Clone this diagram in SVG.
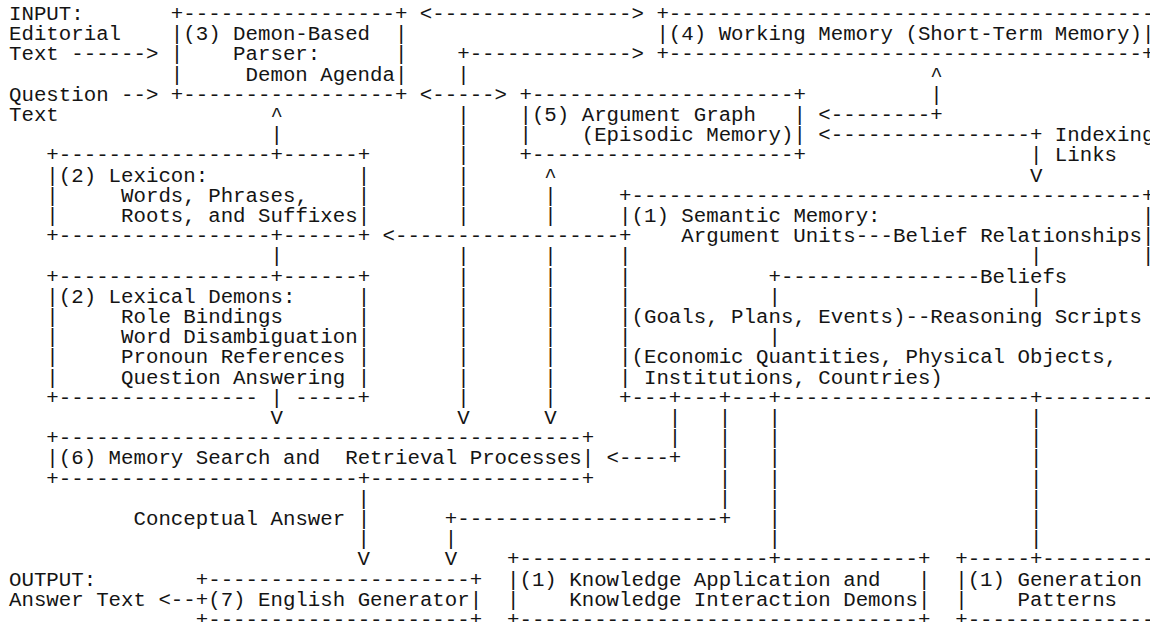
<svg xmlns="http://www.w3.org/2000/svg" width="1150" height="622" viewBox="0 0 1150 622" xml:space="preserve">
<style>
text { font-family: "Liberation Mono", "Courier New", "DejaVu Sans Mono", monospace; font-size: 20.75px; fill: #141414; white-space: pre; }
</style>
<rect width="1150" height="622" fill="#ffffff"/>
<g id="input-labels">
<text x="9" y="20">INPUT:</text>
<text x="9" y="40.2">Editorial</text>
<text x="9" y="60.4">Text</text>
<text x="9" y="100.8">Question</text>
<text x="9" y="121">Text</text>
</g>
<g id="output-labels">
<text x="9" y="585.6">OUTPUT:</text>
<text x="9" y="605.8">Answer Text</text>
</g>
<g id="node-parser">
<text x="170.85" y="20">+-----------------+</text>
<text x="170.85" y="40.2">|(3) Demon-Based  |</text>
<text x="170.85" y="60.4">|    Parser:      |</text>
<text x="170.85" y="80.6">|     Demon Agenda|</text>
<text x="170.85" y="100.8">+-----------------+</text>
</g>
<g id="node-working-memory">
<text x="656.4" y="20">+---------------------------------------</text>
<text x="656.4" y="40.2">|(4) Working Memory (Short-Term Memory)|</text>
<text x="656.4" y="60.4">+--------------------------------------+</text>
</g>
<g id="node-argument-graph">
<text x="519.45" y="100.8">+---------------------+</text>
<text x="519.45" y="121">|(5) Argument Graph   |</text>
<text x="519.45" y="141.2">|    (Episodic Memory)|</text>
<text x="519.45" y="161.4">+---------------------+</text>
</g>
<g id="node-lexicon">
<text x="46.35" y="161.4">+-----------------+------+</text>
<text x="46.35" y="181.6">|(2) Lexicon:            |</text>
<text x="46.35" y="201.8">|     Words, Phrases,    |</text>
<text x="46.35" y="222">|     Roots, and Suffixes|</text>
<text x="46.35" y="242.2">+-----------------+------+</text>
</g>
<g id="node-lexical-demons">
<text x="46.35" y="282.6">+-----------------+------+</text>
<text x="46.35" y="302.8">|(2) Lexical Demons:     |</text>
<text x="46.35" y="323">|     Role Bindings      |</text>
<text x="46.35" y="343.2">|     Word Disambiguation|</text>
<text x="46.35" y="363.4">|     Pronoun References |</text>
<text x="46.35" y="383.6">|     Question Answering |</text>
<text x="46.35" y="403.8">+----------------</text>
<text x="295.35" y="403.8">-----+</text>
</g>
<g id="node-semantic-memory">
<text x="619.05" y="201.8">+-----------------------------------------+</text>
<text x="619.05" y="222">|(1) Semantic Memory:</text>
<text x="1141.95" y="222">|</text>
<text x="681.3" y="242.2">Argument Units---Belief Relationships|</text>
<text x="619.05" y="262.4">|</text>
<text x="1029.9" y="262.4">|</text>
<text x="1141.95" y="262.4">|</text>
<text x="619.05" y="282.6">|</text>
<text x="768.45" y="282.6">+----------------Beliefs</text>
<text x="619.05" y="302.8">|</text>
<text x="768.45" y="302.8">|</text>
<text x="1029.9" y="302.8">|</text>
<text x="619.05" y="323">|(Goals, Plans, Events)--Reasoning Scripts</text>
<text x="619.05" y="343.2">|</text>
<text x="768.45" y="343.2">|</text>
<text x="619.05" y="363.4">|(Economic Quantities, Physical Objects,</text>
<text x="619.05" y="383.6">| Institutions, Countries)</text>
<text x="619.05" y="403.8">+---+---+---+--------------------+---------</text>
</g>
<g id="node-memory-search">
<text x="46.35" y="444.2">+------------------------------------------+</text>
<text x="46.35" y="464.4">|(6) Memory Search and  Retrieval Processes|</text>
<text x="46.35" y="484.6">+------------------------+-----------------+</text>
</g>
<g id="node-english-generator">
<text x="195.75" y="585.6">+---------------------+</text>
<text x="195.75" y="605.8">+(7) English Generator|</text>
<text x="195.75" y="626">+---------------------+</text>
</g>
<g id="node-knowledge-application">
<text x="507" y="565.4">+--------------------+-----------+</text>
<text x="507" y="585.6">|(1) Knowledge Application and   |</text>
<text x="507" y="605.8">|    Knowledge Interaction Demons|</text>
<text x="507" y="626">+--------------------------------+</text>
</g>
<g id="node-generation-patterns">
<text x="955.2" y="565.4">+-----+---------</text>
<text x="955.2" y="585.6">|(1) Generation</text>
<text x="955.2" y="605.8">|    Patterns</text>
<text x="955.2" y="626">+---------------</text>
</g>
<g id="connectors">
<text x="71.25" y="60.4">------&gt;</text>
<text x="121.05" y="100.8">--&gt;</text>
<text x="158.4" y="605.8">&lt;--</text>
<text x="419.85" y="20">&lt;----------------&gt;</text>
<text x="457.2" y="60.4">+-------------&gt;</text>
<text x="457.2" y="80.6">|</text>
<text x="930.3" y="80.6">^</text>
<text x="419.85" y="100.8">&lt;-----&gt;</text>
<text x="930.3" y="100.8">|</text>
<text x="270.45" y="121">^</text>
<text x="457.2" y="121">|</text>
<text x="818.25" y="121">&lt;--------+</text>
<text x="270.45" y="141.2">|</text>
<text x="457.2" y="141.2">|</text>
<text x="818.25" y="141.2">&lt;----------------+</text>
<text x="1054.8" y="141.2">Indexing</text>
<text x="457.2" y="161.4">|</text>
<text x="1029.9" y="161.4">|</text>
<text x="1054.8" y="161.4">Links</text>
<text x="457.2" y="181.6">|</text>
<text x="544.35" y="181.6">^</text>
<text x="1029.9" y="181.6">V</text>
<text x="457.2" y="201.8">|</text>
<text x="544.35" y="201.8">|</text>
<text x="457.2" y="222">|</text>
<text x="544.35" y="222">|</text>
<text x="382.5" y="242.2">&lt;------------------+</text>
<text x="270.45" y="262.4">|</text>
<text x="457.2" y="262.4">|</text>
<text x="544.35" y="262.4">|</text>
<text x="457.2" y="282.6">|</text>
<text x="544.35" y="282.6">|</text>
<text x="457.2" y="302.8">|</text>
<text x="544.35" y="302.8">|</text>
<text x="457.2" y="323">|</text>
<text x="544.35" y="323">|</text>
<text x="457.2" y="343.2">|</text>
<text x="544.35" y="343.2">|</text>
<text x="457.2" y="363.4">|</text>
<text x="544.35" y="363.4">|</text>
<text x="457.2" y="383.6">|</text>
<text x="544.35" y="383.6">|</text>
<text x="270.45" y="403.8">|</text>
<text x="457.2" y="403.8">|</text>
<text x="544.35" y="403.8">|</text>
<text x="270.45" y="424">V</text>
<text x="457.2" y="424">V</text>
<text x="544.35" y="424">V</text>
<text x="668.85" y="424">|   |   |</text>
<text x="1029.9" y="424">|</text>
<text x="668.85" y="444.2">|   |   |</text>
<text x="1029.9" y="444.2">|</text>
<text x="606.6" y="464.4">&lt;----+   |   |</text>
<text x="1029.9" y="464.4">|</text>
<text x="718.65" y="484.6">|   |</text>
<text x="1029.9" y="484.6">|</text>
<text x="357.6" y="504.8">|</text>
<text x="718.65" y="504.8">|   |</text>
<text x="1029.9" y="504.8">|</text>
<text x="133.5" y="525">Conceptual Answer |</text>
<text x="444.75" y="525">+---------------------+   |</text>
<text x="1029.9" y="525">|</text>
<text x="357.6" y="545.2">|</text>
<text x="444.75" y="545.2">|</text>
<text x="768.45" y="545.2">|</text>
<text x="1029.9" y="545.2">|</text>
<text x="357.6" y="565.4">V</text>
<text x="444.75" y="565.4">V</text>
</g>
</svg>
